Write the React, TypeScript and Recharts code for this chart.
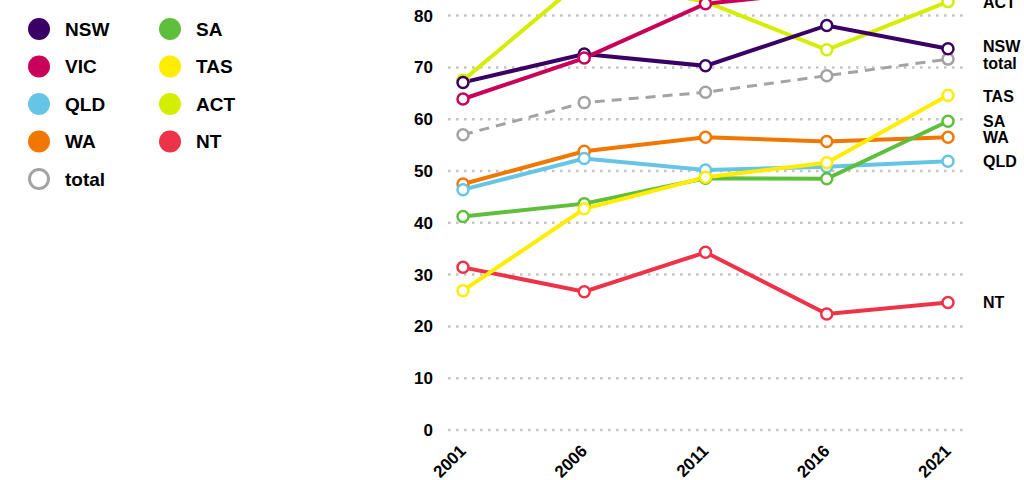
import { LineChart, Line, XAxis, YAxis, CartesianGrid } from 'recharts'

const years = ['2001', '2006', '2011', '2016', '2021']

const nsw = [67.1, 72.6, 70.3, 78.1, 73.6]
const vic = [63.9, 71.8, 82.3, 84.7, 86.0]
const qld = [46.4, 52.4, 50.2, 50.8, 51.9]
const wa = [47.5, 53.8, 56.5, 55.7, 56.5]
const sa = [41.2, 43.7, 48.6, 48.5, 59.6]
const tas = [26.9, 42.7, 48.8, 51.6, 64.6]
const act = [67.5, 87.1, 82.7, 73.4, 82.7]
const nt = [31.4, 26.7, 34.3, 22.4, 24.6]
const total = [57.0, 63.2, 65.2, 68.4, 71.6]

const yTicks = [0, 10, 20, 30, 40, 50, 60, 70, 80, 90, 100]

const FONT = '"Liberation Sans", Arial, sans-serif'

// draw order matters for overlaps (last = on top)
const series = [
  { key: 'ACT', values: act, color: '#d4ee00', labelDy: 1 },
  { key: 'NT', values: nt, color: '#ee3248', labelDy: 0 },
  { key: 'total', values: total, color: '#a3a3a3', labelDy: 4, dashed: true },
  { key: 'NSW', values: nsw, color: '#3a0066', labelDy: -3 },
  { key: 'VIC', values: vic, color: '#c8005a', labelDy: 0, noLabel: true },
  { key: 'WA', values: wa, color: '#f07800', labelDy: 0 },
  { key: 'QLD', values: qld, color: '#66c5e6', labelDy: 0 },
  { key: 'SA', values: sa, color: '#5fbe3c', labelDy: 0 },
  { key: 'TAS', values: tas, color: '#ffed00', labelDy: 1 },
]

const legendCols = [
  ['NSW', 'VIC', 'QLD', 'WA', 'total'],
  ['SA', 'TAS', 'ACT', 'NT'],
]

const data = years.map((year, i) => {
  const row: Record<string, string | number> = { year }
  series.forEach((s) => {
    row[s.key] = s.values[i]
  })
  return row
})

const colorOf = (k: string) => series.find((s) => s.key === k)!.color

function YearTick({ x, y, payload }: any) {
  const ax = x + 4
  const ay = y + 22
  return (
    <text
      x={ax}
      y={ay}
      transform={`rotate(-45 ${ax} ${ay})`}
      textAnchor="end"
      fontFamily={FONT}
      fontWeight="bold"
      fontSize={17}
      fill="#000"
    >
      {payload.value}
    </text>
  )
}

function Legend() {
  return (
    <svg width={260} height={200} style={{ position: 'absolute', left: 0, top: 0 }}>
      {legendCols.map((col, ci) =>
        col.map((k, ri) => {
          const cx = ci === 0 ? 39 : 170
          const cy = 29 + ri * 37.5
          const isTotal = k === 'total'
          return (
            <g key={k}>
              <circle
                cx={cx}
                cy={cy}
                r={isTotal ? 9.5 : 11}
                fill={isTotal ? '#fff' : colorOf(k)}
                stroke={isTotal ? '#a3a3a3' : 'none'}
                strokeWidth={isTotal ? 3 : 0}
              />
              <text
                x={cx + 26}
                y={cy}
                dy="0.36em"
                fontFamily={FONT}
                fontWeight="bold"
                fontSize={19}
                fill="#000"
              >
                {k}
              </text>
            </g>
          )
        })
      )}
    </svg>
  )
}

export default function App() {
  const last = years.length - 1
  return (
    <div
      style={{
        position: 'absolute',
        left: 0,
        top: 0,
        width: 1024,
        height: 480,
        overflow: 'hidden',
        background: '#fff',
      }}
    >
      <Legend />
      <div style={{ position: 'absolute', left: 0, top: -98 }}>
        <LineChart
          width={1024}
          height={578}
          data={data}
          margin={{ top: 10, right: 57, bottom: 0, left: 0 }}
        >
          <CartesianGrid
            vertical={false}
            stroke="#c4c4c4"
            strokeWidth={2.5}
            strokeDasharray="2.5 5.5"
          />
          <XAxis
            dataKey="year"
            axisLine={false}
            tickLine={false}
            tickSize={0}
            tickMargin={0}
            height={50}
            padding={{ left: 15, right: 19 }}
            tick={<YearTick />}
            interval={0}
          />
          <YAxis
            domain={[0, 100]}
            ticks={yTicks}
            axisLine={false}
            tickLine={false}
            tickSize={0}
            tickMargin={15}
            width={448}
            interval={0}
            tick={{ fontFamily: FONT, fontWeight: 'bold', fontSize: 17, fill: '#000' }}
          />
          {series.map((s) => (
            <Line
              key={s.key}
              dataKey={s.key}
              type="linear"
              stroke={s.color}
              strokeWidth={s.dashed ? 3 : 4}
              strokeDasharray={s.dashed ? '10 7' : undefined}
              dot={{ r: 5.5, fill: '#fff', stroke: s.color, strokeWidth: 2.5, strokeDasharray: '' }}
              isAnimationActive={false}
              label={(p: any) =>
                p.index === last && !s.noLabel ? (
                  <text
                    key={`lbl-${s.key}`}
                    x={p.x + 35}
                    y={p.y + s.labelDy}
                    dy="0.36em"
                    fontFamily={FONT}
                    fontWeight="bold"
                    fontSize={16}
                    fill="#000"
                  >
                    {s.key}
                  </text>
                ) : (
                  <g key={`lbl-${s.key}-${p.index}`} />
                )
              }
            />
          ))}
        </LineChart>
      </div>
    </div>
  )
}
